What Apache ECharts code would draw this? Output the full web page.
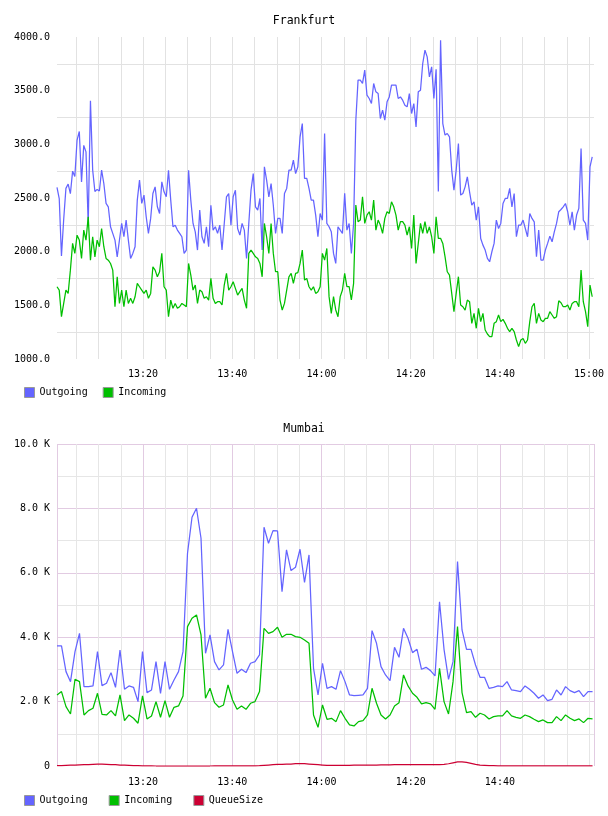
<!DOCTYPE html>
<html>
<head>
<meta charset="utf-8">
<script src="https://cdn.jsdelivr.net/npm/echarts@6/dist/echarts.min.js"></script>
<style>
  html, body { margin: 0; padding: 0; background: #fff; }
  #main { width: 608px; height: 816px; }
</style>
</head>
<body>
<div id="main"></div>
<script>
// time is minutes after 13:00
const X_MIN = 0.7;
const X_MAX = 121.1;

// Frankfurt: one sample every 30 s from 13:00:42
const FRA_START = 0.7;
const FRA_STEP = 0.5;
const fraOutgoing = [
  2598, 2495, 1960, 2300, 2590, 2630, 2540, 2750, 2700, 3040,
  3120, 2650, 2990, 2930, 2250, 3405, 2760, 2560, 2580, 2565,
  2760, 2635, 2450, 2418, 2232, 2170, 2108, 1952, 2108, 2263,
  2140, 2294, 2108, 1937, 1984, 2046, 2480, 2666, 2450, 2527,
  2325, 2170, 2310, 2542, 2604, 2418, 2356, 2651, 2558, 2511,
  2759, 2480, 2232, 2247, 2201, 2170, 2139, 1984, 2015, 2759,
  2480, 2263, 2185, 2015, 2387, 2139, 2077, 2232, 2046, 2433,
  2201, 2232, 2170, 2247, 2015, 2263, 2511, 2542, 2247, 2511,
  2573, 2216, 2154, 2263, 2201, 1937, 2263, 2573, 2728, 2418,
  2387, 2496, 2015, 2790, 2666, 2511, 2635, 2433, 2170, 2310,
  2310, 2170, 2542, 2589, 2759, 2759, 2852, 2728, 2790, 3070,
  3194, 2682, 2682, 2589, 2480, 2480, 2340, 2139, 2356, 2294,
  3100, 2263, 2232, 2186, 1984, 1891, 2232, 2201, 2170, 2543,
  2201, 2263, 1984, 2263, 3225, 3598, 3598, 3567, 3691, 3458,
  3427, 3380, 3567, 3489, 3473, 3241, 3318, 3225, 3396, 3442,
  3551, 3551, 3551, 3427, 3442, 3411, 3365, 3349, 3473, 3287,
  3380, 3163, 3489, 3504, 3753, 3877, 3815, 3629, 3722, 3427,
  3700, 2560, 3970, 3194, 3086, 3101, 3070, 2760, 2574, 2760,
  3008, 2527, 2542, 2604, 2697, 2558, 2434, 2465, 2294, 2418,
  2123, 2061, 2015, 1937, 1906, 1999, 2077, 2294, 2216, 2263,
  2449, 2496, 2496, 2589, 2418, 2542, 2139, 2248, 2248, 2294,
  2216, 2139, 2356, 2310, 2278, 1953, 2201, 1922, 1922, 2015,
  2077, 2145, 2092, 2185, 2263, 2372, 2393, 2418, 2449, 2372,
  2248, 2372, 2201, 2341, 2403, 2961, 2294, 2263, 2108, 2790,
  2884
];
const fraIncoming = [
  1673, 1642, 1394, 1518, 1642, 1611, 1828, 2077, 1984, 2154,
  2108, 1937, 2201, 2108, 2325, 1921, 2139, 1952, 2108, 2046,
  2216, 2046, 1937, 1921, 1890, 1828, 1487, 1766, 1518, 1642,
  1487, 1642, 1518, 1565, 1518, 1580, 1704, 1673, 1642, 1611,
  1642, 1565, 1611, 1859, 1828, 1766, 1813, 1984, 1673, 1642,
  1394, 1549, 1472, 1518, 1472, 1487, 1518, 1503, 1487, 1890,
  1782, 1642, 1689, 1518, 1642, 1627, 1565, 1580, 1549, 1751,
  1565, 1518, 1534, 1534, 1503, 1689, 1797, 1642, 1673, 1720,
  1658, 1596, 1627, 1658, 1549, 1472, 1984, 2015, 1984, 1952,
  1937, 1890, 1766, 2263, 2139, 1984, 2263, 1984, 1813, 1813,
  1549, 1456, 1518, 1642, 1766, 1797, 1704, 1797, 1804, 1890,
  2015, 1735, 1751, 1673, 1642, 1673, 1611, 1627, 1673, 1984,
  1921, 2030, 1581, 1425, 1581, 1457, 1394, 1581, 1643, 1798,
  1674, 1674, 1550, 1705, 2434, 2279, 2294, 2512, 2263, 2341,
  2372, 2294, 2481, 2201, 2294, 2248, 2170, 2310, 2372, 2356,
  2465, 2418, 2341, 2201, 2279, 2279, 2248, 2155, 2232, 2030,
  2341, 1891, 2077, 2263, 2170, 2279, 2170, 2232, 2139, 1984,
  2325, 2124, 2124, 2077, 1953, 1813, 1782, 1612, 1441, 1612,
  1767, 1503, 1487, 1456, 1549, 1534, 1332, 1425, 1286, 1472,
  1348, 1425, 1270, 1233, 1208, 1208, 1332, 1348, 1410, 1348,
  1369, 1332, 1286, 1255, 1286, 1255, 1177, 1115, 1177, 1192,
  1146, 1177, 1348, 1487, 1518, 1332, 1425, 1363, 1348, 1379,
  1379, 1441, 1410, 1379, 1394, 1543, 1524, 1487, 1487, 1503,
  1456, 1518, 1534, 1534, 1487, 1829, 1534, 1441, 1301, 1689,
  1580
];

// Mumbai: one sample a minute from 13:00:42
const BOM_START = 0.7;
const BOM_STEP = 1.009;
const bomOutgoing = [
  3728, 3728, 2931, 2620, 3552, 4121, 2465, 2465, 2486, 3552,
  2496, 2569, 2900, 2444, 3604, 2382, 2486, 2444, 2000, 3552,
  2279, 2362, 3241, 2258, 3241, 2382, 2672, 2931, 3552, 6606,
  7724, 8004, 7072, 3500, 4069, 3241, 2983, 3138, 4245, 3552,
  2879, 3003, 2900, 3190, 3241, 3448, 7414, 6917, 7310, 7300,
  5416, 6710, 6068, 6172, 6731, 5700, 6555, 3034, 2206, 3190,
  2413, 2465, 2382, 2962, 2620, 2206, 2186, 2196, 2206, 2413,
  4204, 3811, 3086, 2827, 2651, 3686, 3376, 4276, 3966, 3521,
  3624, 3003, 3065, 2962, 2796, 5100, 3624, 2693, 3241, 6348,
  4225, 3624, 3624, 3138, 2755, 2755, 2413, 2444, 2486, 2465,
  2620, 2362, 2341, 2310, 2486, 2382, 2258, 2103, 2206, 2030,
  2072, 2362, 2206, 2465, 2341, 2279, 2341, 2155, 2310, 2310
];
const bomIncoming = [
  2206, 2310, 1844, 1616, 2693, 2620, 1585, 1720, 1792, 2258,
  1606, 1585, 1720, 1554, 2206, 1409, 1585, 1482, 1327, 2175,
  1461, 1554, 2000, 1513, 2030, 1513, 1823, 1865, 2175, 4328,
  4587, 4690, 4069, 2103, 2413, 1968, 1823, 1896, 2517, 2051,
  1761, 1865, 1761, 1948, 2000, 2310, 4276, 4121, 4173, 4307,
  3997, 4090, 4090, 4018, 3997, 3914, 3811, 1585, 1202, 1896,
  1451, 1482, 1378, 1720, 1482, 1275, 1244, 1378, 1409, 1585,
  2413, 1948, 1585, 1461, 1585, 1865, 1968, 2827, 2486, 2258,
  2134, 1927, 1968, 1927, 1761, 3034, 2000, 1616, 2620, 4328,
  2279, 1658, 1689, 1513, 1637, 1585, 1461, 1533, 1554, 1554,
  1720, 1554, 1513, 1482, 1585, 1533, 1451, 1378, 1430, 1347,
  1347, 1533, 1409, 1585, 1482, 1409, 1461, 1347, 1482, 1461
];
const bomQueue = [
  10, 15, 20, 25, 30, 35, 40, 45, 50, 55,
  55, 50, 45, 40, 30, 25, 20, 15, 10, 5,
  5, 5, 0, 0, 0, 0, 0, 0, 0, 0,
  0, 0, 0, 0, 0, 5, 5, 5, 5, 5,
  5, 5, 5, 5, 5, 10, 20, 30, 40, 50,
  50, 60, 60, 70, 70, 70, 60, 50, 40, 30,
  20, 20, 20, 20, 20, 20, 25, 25, 30, 30,
  30, 30, 35, 35, 35, 40, 40, 40, 45, 45,
  45, 45, 40, 40, 40, 40, 50, 70, 100, 130,
  130, 110, 80, 50, 30, 20, 10, 10, 5, 5,
  5, 5, 5, 5, 5, 5, 5, 5, 5, 5,
  5, 5, 5, 5, 5, 5, 5, 5, 5, 5
];

// ticks and grid lines
const fraTimeLabels = [20, 40, 60, 80, 100, 120];
const fraTimeLines = [5, 10, 15, 20, 25, 30, 35, 40, 45, 50, 55, 60,
  65, 70, 75, 80, 85, 90, 95, 100, 105, 110, 115, 120];
const fraValueLabels = [1000, 1500, 2000, 2500, 3000, 3500, 4000];
const fraValueLines = [1250, 1750, 2250, 2750, 3250, 3750];

const bomTimeLabels = [20, 40, 60, 80, 100];
const bomTimeMinor = [5, 10, 15, 25, 30, 35, 45, 50, 55, 65, 70, 75,
  85, 90, 95, 105, 110, 115, 120];
const bomTimeMajor = [X_MIN, 20, 40, 60, 80, 100, X_MAX];
const bomValueLabels = [0, 2000, 4000, 6000, 8000, 10000];
const bomValueMinor = [1000, 3000, 5000, 7000, 9000];
const bomValueMajor = [2000, 4000, 6000, 8000, 10000];

const BLUE = '#6464ff';
const GREEN = '#00bf00';
const RED = '#cc0033';
const FONT = 'DejaVu Sans Mono';

function toPairs(start, step, vals) {
  return vals.map((v, i) => [start + step * i, v]);
}
function hhmm(v) {
  let m = Math.round(v);
  let h = 13 + Math.floor(m / 60);
  m = m % 60;
  return h + ':' + (m < 10 ? '0' + m : m);
}

let labelStyle = { fontFamily: FONT, fontSize: 10, color: '#000' };

function timeAxis(grid, labels, lines, color, margin) {
  return {
    type: 'value', gridIndex: grid, min: X_MIN, max: X_MAX,
    axisLine: { show: false },
    axisTick: { show: false, customValues: lines },
    splitLine: { show: true, lineStyle: { color: color, width: 1 } },
    axisLabel: labels
      ? Object.assign({ customValues: labels, formatter: hhmm, margin: margin }, labelStyle)
      : { show: false }
  };
}
function valueAxis(grid, min, max, labels, lines, color, fmt) {
  return {
    type: 'value', gridIndex: grid, min: min, max: max,
    axisLine: { show: false },
    axisTick: { show: false, customValues: lines },
    splitLine: { show: true, lineStyle: { color: color, width: 1 } },
    axisLabel: labels
      ? Object.assign({ customValues: labels, formatter: fmt, margin: 7 }, labelStyle)
      : { show: false }
  };
}

function line(name, color, x, y, data) {
  return {
    name: name, type: 'line', xAxisIndex: x, yAxisIndex: y,
    data: data, showSymbol: false, symbol: 'none',
    lineStyle: { color: color, width: 1.25 }, itemStyle: { color: color },
    z: 5
  };
}

let legendBase = {
  left: 24, padding: 0, itemWidth: 10, itemHeight: 10, icon: 'rect',
  itemStyle: { borderColor: '#999', borderWidth: 1 },
  textStyle: { fontFamily: FONT, fontSize: 10, color: '#000' },
  selectedMode: false
};

let chart = echarts.init(document.getElementById('main'));
chart.setOption({
  animation: false,
  backgroundColor: '#fff',
  title: [
    { text: 'Frankfurt', left: 'center', top: 15, padding: 0,
      textStyle: { fontFamily: FONT, fontSize: 11.5, fontWeight: 'normal', color: '#000' } },
    { text: 'Mumbai', left: 'center', top: 423, padding: 0,
      textStyle: { fontFamily: FONT, fontSize: 11.5, fontWeight: 'normal', color: '#000' } }
  ],
  legend: [
    Object.assign({ top: 387, itemGap: 15, data: ['Outgoing', 'Incoming'] }, legendBase),
    Object.assign({ top: 795, itemGap: 21, data: ['Outgoing', 'Incoming', 'QueueSize'] }, legendBase)
  ],
  grid: [
    { left: 57, top: 37, width: 537, height: 322 },
    { left: 57, top: 444, width: 537, height: 322 }
  ],
  xAxis: [
    timeAxis(0, fraTimeLabels, fraTimeLines, '#e2e2e2', 10),
    timeAxis(1, bomTimeLabels, bomTimeMinor, '#e6e6e6', 11),
    timeAxis(1, null, bomTimeMajor, '#e2cbe2', 0)
  ],
  yAxis: [
    valueAxis(0, 1000, 4000, fraValueLabels, fraValueLines, '#e2e2e2', v => v.toFixed(1)),
    valueAxis(1, 0, 10000, bomValueLabels, bomValueMinor, '#e6e6e6',
      v => v === 0 ? '0' : (v / 1000).toFixed(1) + ' K'),
    valueAxis(1, 0, 10000, null, bomValueMajor, '#e2cbe2')
  ],
  series: [
    line('Outgoing', BLUE, 0, 0, toPairs(FRA_START, FRA_STEP, fraOutgoing)),
    line('Incoming', GREEN, 0, 0, toPairs(FRA_START, FRA_STEP, fraIncoming)),
    line('Outgoing', BLUE, 1, 1, toPairs(BOM_START, BOM_STEP, bomOutgoing)),
    line('Incoming', GREEN, 1, 1, toPairs(BOM_START, BOM_STEP, bomIncoming)),
    line('QueueSize', RED, 1, 1, toPairs(BOM_START, BOM_STEP, bomQueue))
  ]
});
</script>
</body>
</html>
